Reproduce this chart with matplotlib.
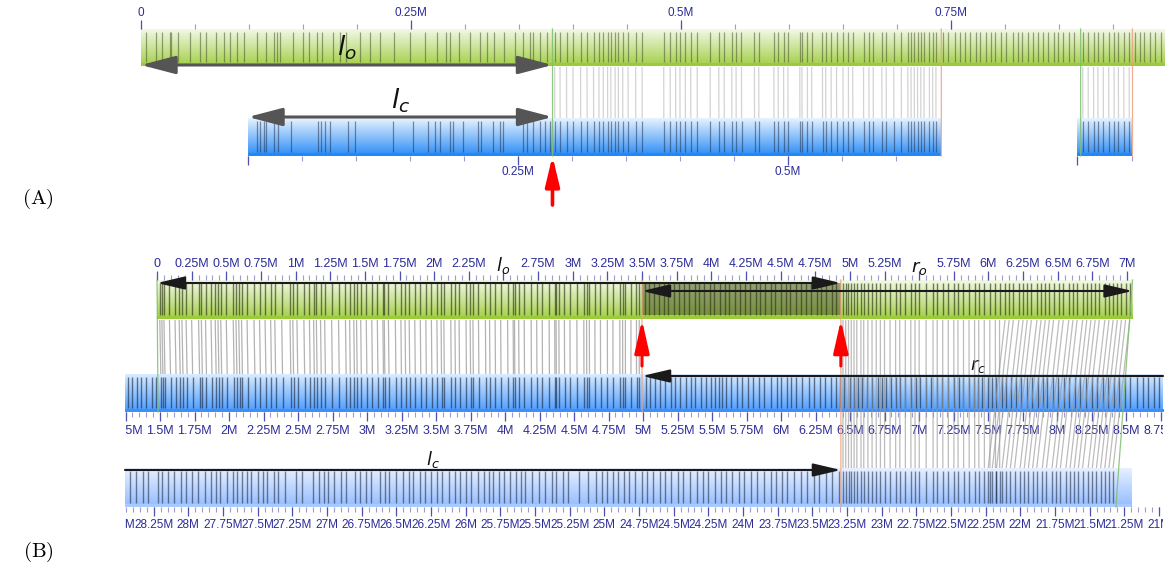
import numpy as np
import matplotlib.pyplot as plt
from matplotlib import font_manager
from matplotlib.colors import LinearSegmentedColormap
from matplotlib.collections import LineCollection
from matplotlib.patches import FancyArrowPatch, ArrowStyle

W, H = 1173, 582

# ---------------- data (genome positions in Mb) ----------------
# (A) original (green) vs. contig (blue)
a_green_span = (0.0, 0.948)
a_blue_spans = [(0.0, 0.641), (0.7676, 0.8185)]
a_green_marks = [.005, .014, .019, .027, .028, .034, .045, .055, .060, .069, .077, .082, .089, .095,
                 .107, .116, .123, .126, .129, .141, .150, .156, .163, .168, .178, .184, .190, .203,
                 .212, .221, .234, .249, .263, .274, .282, .286, .294, .305, .314, .320, .327, .336,
                 .346, .354, .360, .363, .369, .376, .383, .388, .394, .400, .407, .413, .419, .424,
                 .428, .432, .435, .439, .442, .446, .451, .458, .464, .484, .490, .495, .499, .504,
                 .509, .515, .527, .535, .540, .547, .551, .556, .568, .572, .586, .590, .595, .599,
                 .610, .612, .617, .621, .631, .634, .639, .644, .650, .655, .659, .669, .674, .678,
                 .686, .690, .697, .704, .710, .713, .716, .719, .722, .725, .730, .733, .736, .743,
                 .747, .754, .758, .763, .768, .773, .777, .782, .787, .791, .796, .801, .807, .812,
                 .816, .821, .826, .831, .835, .840, .845, .849, .854, .859, .864, .872, .877, .882,
                 .886, .891, .896, .901, .905, .910, .915, .920, .925, .929, .934, .939, .944]
a_blue_marks = [.008, .011, .015, .017, .024, .028, .040, .065, .068, .071, .076, .093, .099, .134,
                .153, .167, .173, .178, .187, .190, .199, .213, .216, .227, .233, .236, .255, .258,
                .264, .270, .275, .280]
# aligned blocks: (green start, green end, blue start, blue end)
a_blocks = [(0.381, 0.741, 0.282, 0.642), (0.870, 0.918, 0.771, 0.819)]
a_edges = [(0.381, 0.282, 'start'), (0.741, 0.642, 'end'), (0.870, 0.771, 'start'), (0.918, 0.819, 'end')]
a_green_labels = [0, 0.25, 0.5, 0.75]
a_blue_labels = [0.25, 0.5]
a_l_o = (0.0, 0.381)
a_l_c = (0.0, 0.282)
a_break = 0.381

# (B) original (green), two contigs (blue)
b_green_span = (0.0, 7.04)
b_mid_span = (1.2, 8.8)
b_bot_span = (28.5, 21.2)
b_green_marks = [0.02, 0.035, 0.05, 0.09, 0.13, 0.16, 0.18, 0.21, 0.25, 0.30, 0.32, 0.35, 0.39, 0.42,
                 0.44, 0.46, 0.50, 0.55, 0.57, 0.59, 0.61, 0.65, 0.70, 0.74, 0.78, 0.82, 0.85, 0.90,
                 0.96, 0.98, 1.01, 1.06, 1.10, 1.13, 1.15, 1.18, 1.21, 1.26, 1.31, 1.36, 1.39, 1.42,
                 1.44, 1.47, 1.51, 1.55, 1.59, 1.63, 1.64, 1.67, 1.72, 1.76, 1.79, 1.82, 1.86, 1.90,
                 1.94, 1.98, 2.02, 2.05, 2.07, 2.12, 2.15, 2.18, 2.23, 2.26, 2.28, 2.32, 2.37, 2.40,
                 2.44, 2.48, 2.53, 2.57, 2.58, 2.61, 2.65, 2.70, 2.74, 2.78, 2.83, 2.87, 2.88, 2.90,
                 2.94, 2.98, 3.03, 3.08, 3.10, 3.12, 3.16, 3.20, 3.25, 3.29, 3.34, 3.36, 3.38, 3.42,
                 3.46, 3.48, 3.52, 3.55, 3.59, 3.62, 3.66, 3.69, 3.73, 3.77, 3.80, 3.84, 3.88, 3.91,
                 3.95, 3.99, 4.02, 4.06, 4.10, 4.13, 4.17, 4.21, 4.24, 4.28, 4.32, 4.35, 4.39, 4.43,
                 4.46, 4.50, 4.54, 4.57, 4.61, 4.65, 4.68, 4.72, 4.76, 4.79, 4.83, 4.87, 4.90, 4.95,
                 4.97, 4.99, 5.01, 5.03, 5.05, 5.08, 5.10, 5.13, 5.16, 5.19, 5.22, 5.25, 5.29, 5.33,
                 5.36, 5.40, 5.44, 5.47, 5.50, 5.55, 5.60, 5.63, 5.67, 5.71, 5.75, 5.78, 5.82, 5.86,
                 5.90, 5.93, 5.97, 6.01, 6.05, 6.08, 6.12, 6.15, 6.18, 6.22, 6.25, 6.28, 6.31, 6.35,
                 6.38, 6.41, 6.44, 6.47, 6.51, 6.54, 6.58, 6.61, 6.64, 6.68, 6.71, 6.74, 6.77, 6.80,
                 6.84, 6.87, 6.90, 6.93, 6.96, 6.99, 7.02]
b_green_dense = (3.5, 4.935)
b_mid_marks = [1.27, 1.30, 1.33, 1.36, 1.40, 1.44, 1.47,
               5.02, 5.05, 5.09, 5.12, 5.16, 5.20, 5.23, 5.27, 5.31, 5.35, 5.38, 5.42, 5.46, 5.49,
               5.52, 5.55, 5.57, 5.60, 5.64, 5.68, 5.72, 5.76, 5.80, 5.84, 5.88, 5.93, 5.97, 6.00,
               6.04, 6.07, 6.11, 6.15, 6.20, 6.24, 6.28, 6.32, 6.36, 6.40, 6.43, 6.46, 6.50, 6.53,
               6.56, 6.59, 6.62, 6.66, 6.70, 6.73, 6.76, 6.80, 6.83, 6.86, 6.90, 6.94, 6.98, 7.01,
               7.05, 7.09, 7.13, 7.17, 7.21, 7.25, 7.29, 7.32, 7.36, 7.40, 7.43, 7.46, 7.50, 7.53,
               7.56, 7.60, 7.63, 7.67, 7.70, 7.74, 7.78, 7.82, 7.86, 7.90, 7.93, 7.97, 8.01, 8.05,
               8.09, 8.13, 8.17, 8.21, 8.25, 8.29, 8.33, 8.37, 8.41, 8.45, 8.49, 8.53, 8.58, 8.62,
               8.66, 8.70, 8.74]
b_bot_marks = [28.42, 28.38, 28.33, 28.29, 28.22, 28.19, 28.15, 28.10, 28.05, 28.02, 27.97, 27.93,
               27.88, 27.84, 27.80, 27.77, 27.72, 27.68, 27.65, 27.61, 27.58, 27.55, 27.50, 27.46,
               27.43, 27.38, 27.35, 27.30, 27.22, 27.18, 27.10, 27.06, 27.02, 26.99, 26.95, 26.90,
               26.86, 26.80, 26.76, 26.72, 26.68, 26.62, 26.58, 26.55, 26.50, 26.45, 26.41, 26.38,
               26.33, 26.29, 26.25, 26.21, 26.17, 26.12, 26.08, 26.04, 26.00, 25.96, 25.91, 25.87,
               25.83, 25.80, 25.76, 25.72, 25.68, 25.64, 25.60, 25.57, 25.52, 25.47, 25.43, 25.38,
               25.35, 25.30, 25.26, 25.18, 25.12, 25.06, 25.02, 24.98, 24.94, 24.90, 24.86, 24.82,
               24.78, 24.73, 24.69, 24.65, 24.60, 24.56, 24.52, 24.47, 24.43, 24.38, 24.33, 24.29,
               24.25, 24.20, 24.16, 24.12, 24.08, 24.03, 23.99, 23.94, 23.90, 23.85, 23.80, 23.76,
               23.72, 23.68, 23.63, 23.58, 23.54, 23.49, 23.45, 23.40, 23.36, 23.31]
b_blocks_mid = [(0.0, 3.5, 1.486, 4.993)]
b_blocks_bot = [(4.935, 6.1, 23.294, 22.129), (6.1, 7.04, 22.252, 21.311)]
b_edges_mid = [(0.0, 1.486, 'start'), (3.5, 4.993, 'end')]
b_edges_bot = [(4.935, 23.294, 'end'), (7.04, 21.311, 'start')]
b_green_hidden = [2.5, 5.5]   # tick labels covered by l_o / r_o
b_l_o = (0.0, 4.935)
b_r_o = (3.5, 7.04)
b_r_c = 4.993
b_l_c = 23.294
b_r_c_label = 7.43
b_l_c_label = 26.24
b_breaks = [3.5, 4.935]


def pick(names):
    for n in names:
        try:
            font_manager.findfont(n, fallback_to_default=False)
            return n
        except ValueError:
            pass
    return 'DejaVu Sans'


TICK_FONT = pick(['Liberation Sans', 'Arial'])
TICK_COL = '#2b2b9a'

fig = plt.figure(figsize=(W / 100, H / 100), dpi=100)


def track(ref, cols=(0, W)):
    # one axes per track: x in Mb, y in pixel rows
    (xa, pa), (xb, pb) = ref
    k = (pb - pa) / (xb - xa)
    ax = fig.add_axes([cols[0] / W, 0, (cols[1] - cols[0]) / W, 1], zorder=1)
    ax.set_xlim(pa + (cols[0] - xa) * k, pa + (cols[1] - xa) * k)
    ax.set_ylim(H, 0)
    ax.axis('off')
    return ax


ax_ag = track(((141, 0), (951, 0.75)))
ax_ab = track(((248, 0), (788, 0.5)))
ax_bg = track(((157, 0), (642, 3.5)))
ax_bm = track(((643, 5.0), (850, 6.5)), cols=(125, 1163))
ax_bb = track(((639, 24.75), (847, 23.25)), cols=(125, 1163))
ov = fig.add_axes([0, 0, 1, 1], zorder=2)
ov.set_xlim(0, W)
ov.set_ylim(H, 0)
ov.axis('off')

A_G, A_B = (29, 66), (118, 156)
B_G, B_M, B_B = (280, 319), (374, 412), (468, 507)


def ov_xy(ax, x, y):
    return ov.transData.inverted().transform(ax.transData.transform((x, y)))


def bar(ax, span, ys, c_top, c_bot, c_base):
    top, bot = ys
    cmap = LinearSegmentedColormap.from_list('grad', [c_top, c_bot])
    ax.imshow(np.linspace(0, 1, 60)[:, None], cmap=cmap, aspect='auto',
              extent=(span[0], span[1], bot, top), interpolation='bilinear', zorder=1)
    ax.fill_between(span, bot - 3.5, bot, color=c_base, lw=0, zorder=3)


def marks(ax, pos, ys, color, alpha, lw=0.9):
    ax.vlines(pos, ys[0] + 3, ys[1] - 4, colors=color, lw=lw, alpha=alpha, zorder=2)


def fmt(v):
    return '0' if v == 0 else '%gM' % v


def ticks(ax, lo, hi, y0, sign, labels, ly, fs=9):
    mn = np.round(np.arange(lo, hi + 1e-9, 0.05), 2)
    mj = mn[np.isclose(mn * 4, np.round(mn * 4))]
    ax.vlines(mn, y0, y0 + sign * 5, color='#9c9cd0', lw=0.8, zorder=2)
    ax.vlines(mj, y0, y0 + sign * 9, color='#5050ae', lw=0.9, zorder=2)
    for v in labels:
        ax.text(v, ly, fmt(v), ha='center', va='center', fontsize=fs, family=TICK_FONT,
                color=TICK_COL, clip_on=True)


def link(ax_s, ax_t, blocks, pos, ys_s, ys_t, color, alpha):
    segs, mapped = [], []
    for g0, g1, t0, t1 in blocks:
        for g in pos:
            if g0 <= g <= g1:
                t = t0 + (g - g0) * (t1 - t0) / (g1 - g0)
                mapped.append(t)
                segs.append([ov_xy(ax_s, g, ys_s[1] + 1), ov_xy(ax_t, t, ys_t[0])])
    ov.add_collection(LineCollection(segs, colors=color, alpha=alpha, lw=0.9, zorder=1))
    return mapped


def edges(ax_s, ax_t, lst, ys_s, ys_t):
    for g, t, kind in lst:
        c = '#7dbf6c' if kind == 'start' else '#f0a07c'
        p0, p1 = ov_xy(ax_s, g, ys_s[0]), ov_xy(ax_t, t, ys_t[1])
        ov.plot([p0[0], p1[0]], [p0[1], p1[1]], color=c, lw=0.9, alpha=0.85, zorder=2)


def harrow(ax, p0, p1, y, style, color, lw, hl, hw):
    ov.add_patch(FancyArrowPatch(ov_xy(ax, p0, y), ov_xy(ax, p1, y),
                                 arrowstyle=ArrowStyle(style, head_length=hl, head_width=hw),
                                 mutation_scale=1, lw=lw, color=color, shrinkA=0, shrinkB=0, zorder=5))


def red_arrow(ax, p, y_tail, y_tip, lw, hl, hw):
    ov.add_patch(FancyArrowPatch(ov_xy(ax, p, y_tail), ov_xy(ax, p, y_tip),
                                 arrowstyle=ArrowStyle('-|>', head_length=hl, head_width=hw),
                                 mutation_scale=1, lw=lw, color='#ff0000', shrinkA=0, shrinkB=0, zorder=6))


GREEN = ('#f2f8e6', '#a3cf48', '#9bcb39')

# ---------------- panel A ----------------
bar(ax_ag, a_green_span, A_G, *GREEN)
marks(ax_ag, a_green_marks, A_G, '#3f4a25', 0.5)
ticks(ax_ag, 0, a_green_span[1], A_G[0], -1, a_green_labels, 13, fs=8.5)

a_mapped = link(ax_ag, ax_ab, a_blocks, a_green_marks, A_G, A_B, '#cfcfcf', 0.9)
for sp in a_blue_spans:
    bar(ax_ab, sp, A_B, '#e6f2ff', '#2b8cf6', '#1e88ff')
marks(ax_ab, a_blue_marks + a_mapped, A_B, '#1c2c48', 0.5)
ticks(ax_ab, 0, a_blue_spans[0][1], A_B[1], 1, a_blue_labels, 172, fs=8.5)
ax_ab.vlines(a_blue_spans[1][0], A_B[1], A_B[1] + 9, color='#5050ae', lw=0.9)
ax_ab.vlines(a_blue_spans[1][1], A_B[1], A_B[1] + 5, color='#9c9cd0', lw=0.8)
edges(ax_ag, ax_ab, a_edges, A_G, A_B)

harrow(ax_ag, a_l_o[0], a_l_o[1], 65, '<|-|>', '#555555', 2.2, 21, 5.5)
harrow(ax_ab, a_l_c[0], a_l_c[1], 117, '<|-|>', '#555555', 2.2, 21, 5.5)
ax_ag.text(np.mean(a_l_o), 48, r'$l_o$', fontsize=19, ha='center', va='center', color='#111111')
ax_ab.text(np.mean(a_l_c), 101, r'$l_c$', fontsize=19, ha='center', va='center', color='#111111')
red_arrow(ax_ag, a_break, 205, 156, 2.6, 18, 4.3)

# ---------------- panel B ----------------
bar(ax_bg, b_green_span, B_G, *GREEN)
ax_bg.fill_between(b_green_dense, B_G[0] + 3, B_G[1] - 4, color='#4c5a26', alpha=0.55, lw=0, zorder=2)
marks(ax_bg, b_green_marks, B_G, '#2f3818', 0.65, lw=1.0)
b_green_labels = [v for v in np.round(np.arange(0, 7.01, 0.25), 2) if v not in b_green_hidden]
ticks(ax_bg, 0, b_green_span[1], B_G[0], -1, b_green_labels, 264)

mid_mapped = link(ax_bg, ax_bm, b_blocks_mid, b_green_marks, B_G, B_M, '#a0a0a0', 0.8)
bot_mapped = link(ax_bg, ax_bb, b_blocks_bot, b_green_marks, B_G, B_B, '#989898', 0.65)

bar(ax_bm, b_mid_span, B_M, '#d9ecff', '#4a9bff', '#3b8fff')
marks(ax_bm, b_mid_marks + mid_mapped, B_M, '#17243c', 0.6, lw=1.0)
ticks(ax_bm, 1.25, 8.75, B_M[1], 1, np.round(np.arange(1.25, 8.76, 0.25), 2), 431)

bar(ax_bb, b_bot_span, B_B, '#e6f0ff', '#93bcff', '#a9c9ff')
marks(ax_bb, b_bot_marks + bot_mapped, B_B, '#17243c', 0.55, lw=1.0)
ticks(ax_bb, 21.0, 28.5, B_B[1], 1, np.round(np.arange(21.0, 28.51, 0.25), 2), 525, fs=8.5)

edges(ax_bg, ax_bm, b_edges_mid, B_G, B_M)
edges(ax_bg, ax_bb, b_edges_bot, B_G, B_B)

harrow(ax_bg, b_l_o[0], b_l_o[1], 283, '<|-|>', '#1a1a1a', 1.5, 17, 4)
harrow(ax_bg, b_r_o[0], b_r_o[1], 291, '<|-|>', '#1a1a1a', 1.5, 17, 4)
harrow(ax_bm, b_r_c, ax_bm.get_xlim()[1], 376, '<|-', '#1a1a1a', 1.5, 17, 4)
harrow(ax_bb, ax_bb.get_xlim()[0], b_l_c, 470, '-|>', '#1a1a1a', 1.5, 17, 4)
ax_bg.text(b_green_hidden[0], 266, r'$l_o$', fontsize=13, ha='center', va='center', color='#111111')
ax_bg.text(b_green_hidden[1], 268, r'$r_o$', fontsize=13, ha='center', va='center', color='#111111')
ax_bm.text(b_r_c_label, 366, r'$r_c$', fontsize=13, ha='center', va='center', color='#111111')
ax_bb.text(b_l_c_label, 460, r'$l_c$', fontsize=13, ha='center', va='center', color='#111111')
for p in b_breaks:
    red_arrow(ax_bg, p, 366, 320, 2.2, 20, 4.5)

# panel tags
ov.text(38, 199, r'$\mathrm{(A)}$', math_fontfamily='cm', fontsize=15, ha='center', va='center')
ov.text(38, 552, r'$\mathrm{(B)}$', math_fontfamily='cm', fontsize=15, ha='center', va='center')

fig.savefig('out.png', dpi=100)
